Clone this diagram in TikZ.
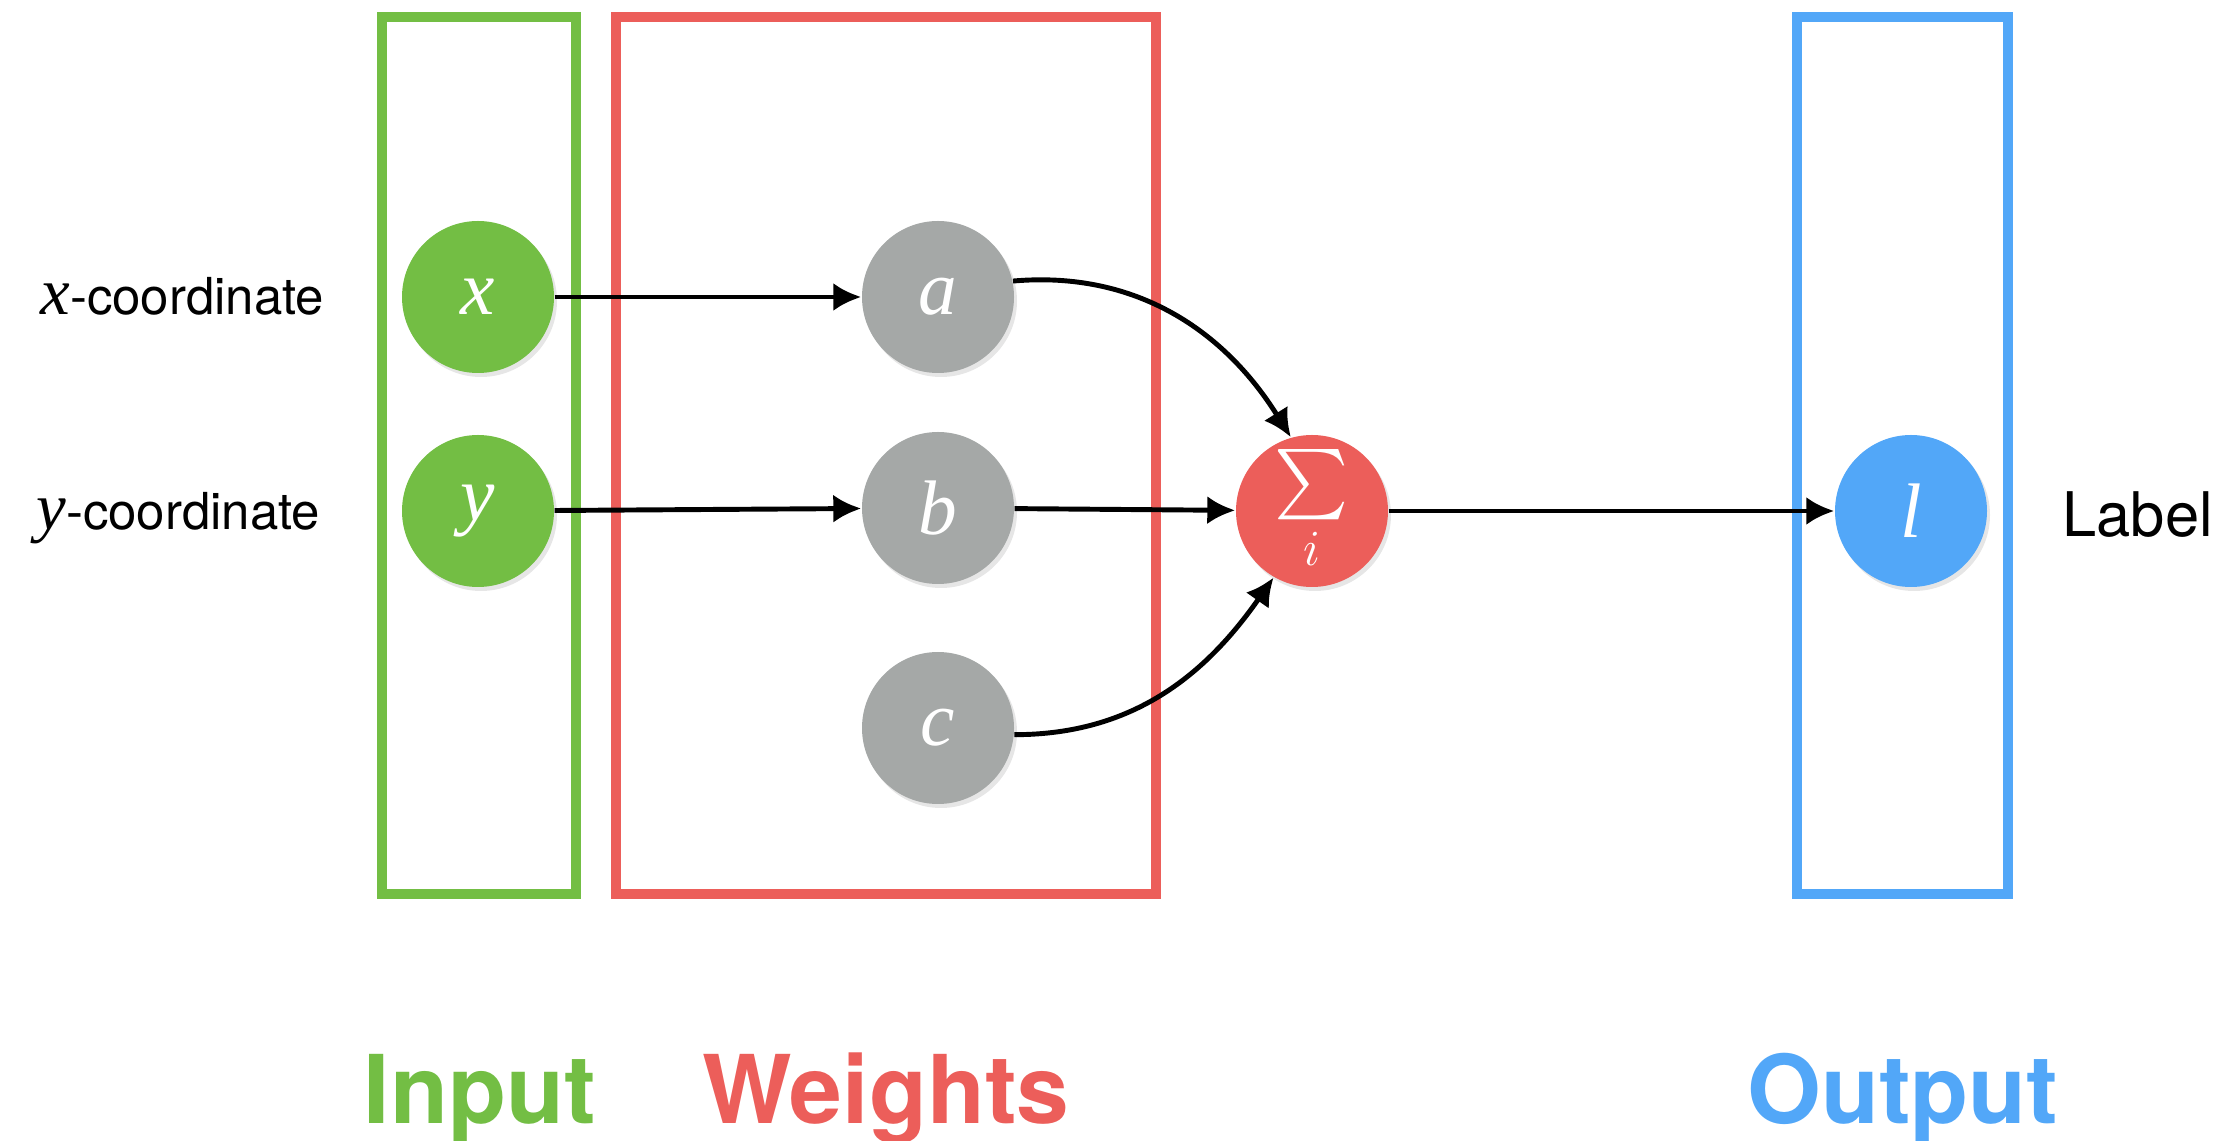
\documentclass[tikz,border=0pt]{standalone}
\usepackage{amsmath, amssymb}
\usepackage{fontspec}
\setsansfont{TeX Gyre Heros}
\newfontfamily\serifit{Liberation Serif}
\usepackage{tikz}
\usetikzlibrary{arrows.meta, shadows}
\definecolor{ingreen}{RGB}{115,190,68}
\definecolor{wred}{RGB}{236,94,90}
\definecolor{wgray}{RGB}{165,168,167}
\definecolor{outblue}{RGB}{82,167,248}
\newcommand{\var}[1]{{\serifit\itshape #1}}

\begin{document}
\begin{tikzpicture}[
        unit/.style={circle, minimum size=1.52cm, inner sep=0pt, text=white,
            font=\fontsize{22}{26}\selectfont,
            drop shadow={opacity=0.2, shadow xshift=0.03cm, shadow yshift=-0.04cm}},
        boxline/.style={line width=0.1cm},
        conn/.style={line width=1.4pt, -{Latex[length=2.8mm, width=2.8mm]}},
        side/.style={font=\sffamily\fontsize{14.5}{17}\selectfont, anchor=base west},
        grouptitle/.style={font=\sffamily\bfseries\fontsize{27}{32}\selectfont, anchor=base}]
        \useasboundingbox (0,0) rectangle (22.39,-11.41);
        \draw[boxline, ingreen] (3.815,-0.17) rectangle (5.76,-8.94);
        \draw[boxline, wred] (6.16,-0.17) rectangle (11.56,-8.94);
        \draw[boxline, outblue] (17.97,-0.17) rectangle (20.08,-8.94);
        \foreach \n/\y in {x/-2.97, y/-5.11} {
            \node[unit, fill=ingreen] (\n) at (4.78,\y) {\var{\n}};
        }
        \foreach \n/\y in {a/-2.97, b/-5.08, c/-7.28} {
            \node[unit, fill=wgray] (\n) at (9.38,\y) {\var{\n}};
        }
        \node[unit, fill=wred, font=\fontsize{20}{24}\selectfont] (sum) at (13.12,-5.11) {$\sum\limits_{i}$};
        \node[unit, fill=outblue] (l) at (19.11,-5.11) {\var{l}};
        \draw[conn] (x) -- (a);
        \draw[conn] (y) -- (b);
        \draw[conn] (b) -- (sum);
        \draw[conn] (sum) -- (l);
        \draw[conn] (a.12) to[out=5, in=122] (sum.106);
        \draw[conn] (c.-5) to[out=0, in=235] (sum.240);
        \node[side] (xlab) at (0.28,-3.15) {{\fontsize{19}{22}\selectfont\var{x}}-coordinate};
        \node[side] (ylab) at (0.24,-5.30) {{\fontsize{19}{22}\selectfont\var{y}}-coordinate};
        \node[side, font=\sffamily\fontsize{17.5}{21}\selectfont] (lab) at (20.50,-5.37) {Label};
        \node[grouptitle, text=ingreen] (tin) at (4.80,-11.24) {Input};
        \node[grouptitle, text=wred] (tw) at (8.86,-11.24) {Weights};
        \node[grouptitle, text=outblue] (tout) at (19.03,-11.24) {Output};
    \end{tikzpicture}
\end{document}
